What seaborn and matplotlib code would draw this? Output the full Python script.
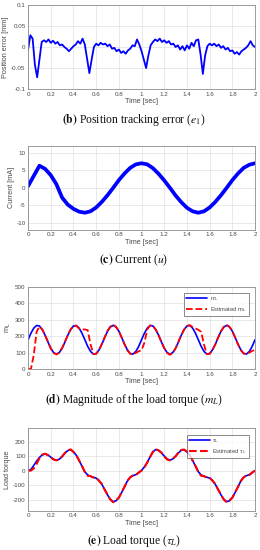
import matplotlib
matplotlib.use("Agg")
import matplotlib.pyplot as plt
import numpy as np
import seaborn as sns

sns.set_theme(style="whitegrid")
plt.rcParams['font.family'] = ['Liberation Sans', 'DejaVu Sans']
plt.rcParams['mathtext.fontset'] = 'stix'

# ---- data ----
t_err = np.round(np.arange(0, 2.0001, 0.02), 3)
pos_err = [-0.006, 0.028, 0.020, -0.042, -0.072, -0.030, 0.012, 0.016, 0.012, 0.018,
           0.010, 0.015, 0.008, 0.012, 0.004, 0.006, 0.000, -0.004, -0.010, -0.004,
           0.002, 0.006, 0.014, 0.008, 0.020, 0.006, -0.028, -0.062, -0.030, 0.000,
           0.008, 0.004, 0.010, 0.006, 0.008, 0.002, 0.006, -0.004, -0.002, -0.010,
           -0.006, -0.014, -0.010, -0.016, -0.008, -0.004, 0.004, 0.002, 0.018, 0.006,
           -0.010, -0.030, -0.050, -0.020, 0.004, 0.012, 0.018, 0.014, 0.020, 0.012,
           0.016, 0.010, 0.014, 0.006, 0.008, 0.000, 0.004, -0.006, 0.002, -0.008,
           0.004, -0.004, 0.010, 0.002, 0.016, 0.018, -0.018, -0.064, -0.020, 0.002,
           0.008, 0.004, 0.008, 0.002, 0.006, -0.002, 0.002, -0.006, -0.002, -0.010,
           -0.008, -0.016, -0.012, -0.018, -0.010, -0.006, -0.002, 0.004, 0.014, 0.004,
           0.000]

t_cur = np.round(np.arange(0, 2.0001, 0.05), 3)
current = [0.5, 3.4, 6.3, 5.4, 3.6, 1.0, -2.8, -4.8, -6.0, -6.8,
           -7.1, -6.7, -5.6, -4.0, -2.1, 0.0, 2.2, 4.1, 5.7, 6.7,
           7.0, 6.7, 5.6, 4.0, 2.1, 0.0, -2.2, -4.1, -5.7, -6.7,
           -7.1, -6.7, -5.6, -4.0, -2.1, 0.0, 2.2, 4.1, 5.7, 6.6,
           7.0]

t_load = np.round(np.arange(0, 2.0001, 0.025), 4)
m_L = [178, 217, 248, 264, 261, 239, 205, 164, 126, 100,
       90, 100, 126, 164, 205, 239, 261, 264, 248, 217,
       178, 138, 107, 91, 94, 116, 150, 191, 229, 255,
       265, 255, 229, 191, 150, 116, 94, 91, 107, 138,
       178, 217, 248, 264, 261, 239, 205, 164, 126, 100,
       90, 100, 126, 164, 205, 239, 261, 264, 248, 217,
       178, 138, 107, 91, 94, 116, 150, 191, 229, 255,
       265, 255, 229, 191, 150, 116, 94, 91, 107, 138,
       178]
m_L_est = [0, 0, 85, 225, 258, 240, 205, 166, 124, 98,
           88, 100, 128, 165, 206, 240, 262, 262, 245, 240,
           240, 236, 150, 92, 92, 116, 152, 193, 232, 258,
           268, 256, 230, 190, 150, 114, 92, 90, 98, 108,
           114, 160, 240, 264, 262, 238, 204, 164, 126, 98,
           86, 98, 126, 166, 206, 240, 262, 266, 254, 246,
           238, 226, 148, 90, 92, 116, 150, 192, 230, 256,
           268, 256, 230, 190, 150, 114, 94, 92, 100, 110,
           116]

tau_L = [0, 8, 35, 65, 90, 108, 114, 108, 92, 78,
         72, 78, 98, 120, 138, 143, 130, 105, 70, 30,
         -8, -30, -40, -46, -52, -68, -95, -130, -168, -198,
         -214, -208, -185, -150, -110, -72, -45, -35, -28, -15,
         2, 25, 55, 95, 128, 145, 140, 122, 100, 80,
         72, 80, 100, 122, 140, 143, 130, 105, 70, 30,
         -8, -30, -40, -46, -52, -68, -95, -130, -168, -198,
         -214, -208, -185, -150, -110, -72, -45, -35, -28, -15,
         0]
tau_L_est = [0, 0, 15, 45, 86, 110, 116, 106, 90, 76,
             70, 80, 96, 122, 140, 146, 128, 106, 68, 32,
             -10, -36, -38, -48, -50, -70, -93, -132, -166, -200,
             -218, -206, -187, -148, -112, -70, -47, -33, -30, -13,
             0, 22, 56, 93, 130, 148, 138, 124, 98, 76,
             70, 82, 98, 124, 142, 145, 128, 107, 68, 32,
             -10, -36, -38, -48, -50, -70, -93, -132, -166, -200,
             -218, -206, -187, -148, -112, -70, -47, -33, -30, -13,
             0]

x_ticks = [0, 0.2, 0.4, 0.6, 0.8, 1, 1.2, 1.4, 1.6, 1.8, 2]
x_ticklabels = ["0", "0.2", "0.4", "0.6", "0.8", "1", "1.2", "1.4", "1.6", "1.8", "2"]

captions = [r"$\mathbf{(b)}$ Position tracking error ($e_1$)",
            r"$\mathbf{(c)}$ Current ($u$)",
            r"$\mathbf{(d)}$ Magnitude of the load torque ($m_L$)",
            r"$\mathbf{(e)}$ Load torque ($\tau_L$)"]

BLUE = "#0000ff"
RED = "#ff0000"
GRAY = "#4a4a4a"

fig = plt.figure(figsize=(2.6, 5.5), dpi=100)
fig.patch.set_facecolor("white")

# axes rectangles [left, bottom, width, height] in figure fraction
rects = [[0.108, 0.838, 0.873, 0.153],
         [0.108, 0.582, 0.873, 0.153],
         [0.108, 0.329, 0.873, 0.150],
         [0.108, 0.071, 0.873, 0.150]]
axes = [fig.add_axes(r) for r in rects]


def style(ax, ylabel, caption, cap_y):
    ax.set_facecolor("white")
    ax.set_xlim(0, 2)
    ax.set_xticks(x_ticks)
    ax.set_xticklabels(x_ticklabels)
    ax.grid(True, color="#e0e0e0", linewidth=0.5)
    for s in ax.spines.values():
        s.set_color("#8c8c8c")
        s.set_linewidth(0.6)
    ax.tick_params(labelsize=4.5, colors=GRAY, length=1.5, width=0.4, pad=1.8,
                   direction="in")
    ax.set_xlabel("Time [sec]", fontsize=5.2, color=GRAY, labelpad=1.2)
    ax.set_ylabel(ylabel, fontsize=5.2, color=GRAY, labelpad=1.3)
    fig.text(0.515, cap_y, caption, ha="center", va="center", fontsize=8.4,
             family="Liberation Serif", color="#111111")


def style_legend(ax):
    leg = ax.legend(loc="upper right", fontsize=4.2, handlelength=3.6, frameon=True,
                    fancybox=False, borderpad=0.35, labelspacing=0.35,
                    handletextpad=0.4, bbox_to_anchor=(0.985, 0.955))
    leg.get_frame().set_edgecolor("#333333")
    leg.get_frame().set_linewidth(0.5)
    for txt in leg.get_texts():
        txt.set_color(GRAY)


# (b) position error
ax = axes[0]
sns.lineplot(x=t_err, y=pos_err, ax=ax, color=BLUE, linewidth=1.3)
ax.set_ylim(-0.1, 0.1)
ax.set_yticks([-0.1, -0.05, 0, 0.05, 0.1])
ax.set_yticklabels(["-0.1", "-0.05", "0", "0.05", "0.1"])
style(ax, "Position error [mm]", captions[0], 1 - 120 / 550)

# (c) current
ax = axes[1]
sns.lineplot(x=t_cur, y=current, ax=ax, color=BLUE, linewidth=2.7)
ax.set_ylim(-12, 12)
ax.set_yticks([-10, -5, 0, 5, 10])
ax.set_yticklabels(["-10", "-5", "0", "5", "10"])
style(ax, "Current [mA]", captions[1], 1 - 260 / 550)

# (d) magnitude of load torque
ax = axes[2]
sns.lineplot(x=t_load, y=m_L, ax=ax, color=BLUE, linewidth=1.2,
             label=r"$\mathregular{m_L}$")
sns.lineplot(x=t_load, y=m_L_est, ax=ax, color=RED, linewidth=1.3,
             linestyle="--", dashes=(3, 2), label=r"Estimated $\mathregular{m_L}$")
ax.set_ylim(0, 500)
ax.set_yticks([0, 100, 200, 300, 400, 500])
ax.set_yticklabels(["0", "100", "200", "300", "400", "500"])
style(ax, r"$\mathregular{m_L}$", captions[2], 1 - 400 / 550)
style_legend(ax)

# (e) load torque
ax = axes[3]
sns.lineplot(x=t_load, y=tau_L, ax=ax, color=BLUE, linewidth=1.2,
             label=r"$\mathregular{\tau_L}$")
sns.lineplot(x=t_load, y=tau_L_est, ax=ax, color=RED, linewidth=1.5,
             linestyle="--", dashes=(3, 1), label=r"Estimated $\mathregular{\tau_L}$")
ax.set_ylim(-278, 290)
ax.set_yticks([-200, -100, 0, 100, 200])
ax.set_yticklabels(["-200", "-100", "0", "100", "200"])
style(ax, "Load torque", captions[3], 1 - 541 / 550)
style_legend(ax)

fig.savefig("out.png", dpi=100, facecolor="white")
